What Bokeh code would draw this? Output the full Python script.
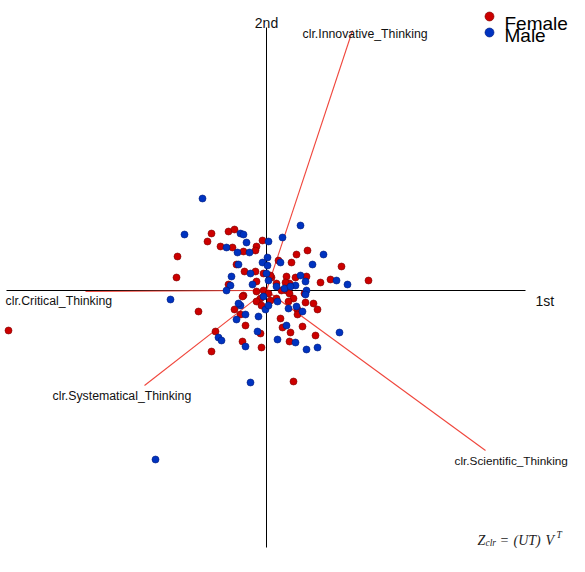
from bokeh.plotting import figure
from bokeh.models import Range1d
from bokeh.core.properties import value
from bokeh.embed import file_html
from bokeh.resources import INLINE

# --- data: scores on 1st / 2nd component ---
female_x = [-2.58, -0.55, -0.59, -0.38, -0.32, -0.04, -0.10, -0.46, -0.34, -0.23, -0.11, -0.89, -0.90, -0.68,
            0.12, 0.30, 0.41, 0.25, 0.75, -0.30, -0.22, -0.11, -0.03, 0.05, -0.10, 0.20, 0.29, 0.23, 0.40, 0.54,
            0.64, 1.02, 0.38, -0.23, -0.10, -0.03, 0.02, -0.06, -0.10, -0.05, 0.04, 0.10, 0.20, 0.23, 0.27, 0.15,
            0.31, 0.39, 0.51, -0.32, -0.24, -0.26, -0.21, 0.14, 0.16, 0.36, 0.24, -0.51, -0.06, 0.49, -0.24, -0.05,
            0.23, -0.55, 0.27, 0.31, 0.22, 0.10, 0.19, -0.38, 0.04, 0.47]
female_y = [-0.40, 0.57, 0.49, 0.59, 0.61, 0.50, 0.44, 0.44, 0.43, 0.39, 0.40, 0.34, 0.13, -0.21,
            0.30, 0.36, 0.40, 0.28, 0.24, 0.26, 0.19, 0.19, 0.17, 0.13, 0.09, 0.14, 0.13, 0.07, 0.14, 0.08,
            0.11, 0.10, -0.03, -0.05, -0.01, 0.00, -0.03, -0.08, -0.11, -0.15, -0.10, -0.08, 0.00, -0.03, -0.08, 0.00,
            -0.19, -0.12, -0.19, -0.19, -0.06, -0.24, -0.35, -0.28, -0.37, -0.36, -0.42, -0.41, -0.43, -0.45, -0.51, -0.57,
            -0.51, -0.61, -0.91, -0.24, -0.11, 0.07, 0.08, 0.06, 0.15, -0.13]

male_x = [-1.11, -0.64, -0.82, -0.26, -0.23, -0.20, 0.02, -0.40, -0.29, -0.17, 0.16, 0.34, -0.96, 0.01,
          -0.04, 0.14, 0.57, 0.46, -0.28, -0.16, 0.01, -0.35, -0.36, -0.40, -0.14, 0.34, 0.39, 0.70, 0.81, 0.02,
          0.10, 0.18, 0.29, 0.40, 0.39, -0.03, -0.01, 0.11, 0.22, 0.36, -0.26, -0.30, -0.21, -0.08, 0.20, 0.73,
          -0.48, -0.45, -0.09, -0.21, 0.11, 0.29, 0.40, 0.51, -0.16, 0.30, 0.00, 0.24, 0.02, -0.28]
male_y = [-1.69, 0.92, 0.56, 0.57, 0.56, 0.48, 0.49, 0.43, 0.38, 0.38, 0.53, 0.65, -0.09, 0.33,
          0.28, 0.28, 0.36, 0.26, 0.26, 0.17, 0.25, 0.14, 0.05, 0.00, 0.06, 0.15, 0.09, 0.10, 0.06, 0.10,
          0.04, 0.02, 0.05, 0.00, -0.04, -0.06, -0.19, -0.11, -0.18, -0.21, -0.15, -0.29, -0.24, -0.26, -0.35, -0.42,
          -0.47, -0.50, -0.41, -0.56, -0.49, -0.52, -0.59, -0.57, -0.92, -0.16, 0.17, 0.04, -0.15, -0.13]

# variable loadings (arrows)
var_names = ["clr.Critical_Thinking", "clr.Systematical_Thinking",
             "clr.Scientific_Thinking", "clr.Innovative_Thinking"]
load_x = [-1.81, -1.22, 2.19, 0.86]
load_y = [-0.01, -0.95, -1.60, 2.60]

axis_names = ["1st", "2nd"]
legend_labels = ["Female", "Male"]

# --- figure ---
W, H = 569, 556
p = figure(width=W, height=H, output_backend="svg", toolbar_location=None,
           x_range=Range1d(-2.66, 3.03), y_range=Range1d(-2.66, 2.90),
           min_border=0, min_border_left=0, min_border_right=0,
           min_border_top=0, min_border_bottom=0)
p.xaxis.visible = False
p.yaxis.visible = False
p.grid.visible = False
p.outline_line_color = None
p.background_fill_color = "white"
p.border_fill_color = "white"

font = value("Liberation Sans")
serif = value("Liberation Serif")

# cross axes
p.segment(x0=[-2.60, 0], y0=[0, 2.63], x1=[2.59, 0], y1=[0, -2.57],
          line_color="black", line_width=1)

# loading arrows
p.segment(x0=[0] * len(load_x), y0=[0] * len(load_y), x1=load_x, y1=load_y,
          line_color="#f0463c", line_width=1.1)

# points
p.scatter(female_x, female_y, size=7, fill_color="#cc0000", line_color="#7a0000", line_width=0.6)
p.scatter(male_x, male_y, size=7, fill_color="#0033c0", line_color="#001a7a", line_width=0.6)

# variable labels
p.text([-2.61, -2.14, 0.36], [-0.103, -1.053, 2.563],
       text=[var_names[0], var_names[1], var_names[3]], text_font=font, text_font_size="12.3px",
       text_color="#111111", text_baseline="alphabetic", text_align="left")
p.text([1.88], [-1.703], text=[var_names[2]], text_font=font, text_font_size="11.8px",
       text_color="#111111", text_baseline="alphabetic", text_align="left")

# axis names
p.text([2.69], [-0.103], text=[axis_names[0]], text_font=font, text_font_size="14px",
       text_color="#111111", text_baseline="alphabetic", text_align="left")
p.text([0.0], [2.673], text=[axis_names[1]], text_font=font, text_font_size="14px",
       text_color="#111111", text_baseline="alphabetic", text_align="center")

# legend
p.scatter([2.23, 2.23], [2.74, 2.58], size=9, fill_color=["#cc0000", "#0033c0"],
          line_color=["#7a0000", "#001a7a"], line_width=0.6)
p.text([2.38, 2.38], [2.675, 2.547], text=legend_labels, text_font=font, text_font_size="19px",
       text_color="black", text_baseline="alphabetic", text_align="left")

# formula at the bottom right
p.text([2.11], [-2.50], text=["Z"], text_font=serif, text_font_style="italic",
       text_font_size="14px", text_color="#222222", text_baseline="alphabetic")
p.text([2.19], [-2.52], text=["clr"], text_font=serif, text_font_style="italic",
       text_font_size="9.5px", text_color="#222222", text_baseline="alphabetic")
p.text([2.34], [-2.50], text=["="], text_font=serif,
       text_font_size="14px", text_color="#222222", text_baseline="alphabetic")
p.text([2.47], [-2.50], text=["(UT)"], text_font=serif, text_font_style="italic",
       text_font_size="14px", text_color="#222222", text_baseline="alphabetic")
p.text([2.79], [-2.50], text=["V"], text_font=serif, text_font_style="italic",
       text_font_size="14px", text_color="#222222", text_baseline="alphabetic")
p.text([2.90], [-2.44], text=["T"], text_font=serif, text_font_style="italic",
       text_font_size="9.5px", text_color="#222222", text_baseline="alphabetic")

open("out.html", "w").write(file_html(p, INLINE))
